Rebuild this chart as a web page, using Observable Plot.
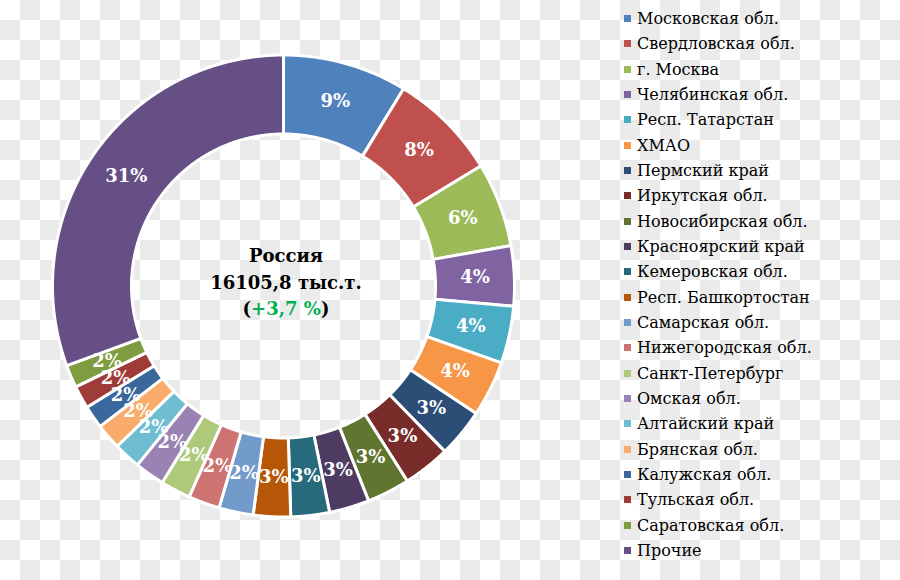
<!DOCTYPE html>
<html>
<head>
<meta charset="utf-8">
<script src="https://cdn.jsdelivr.net/npm/d3@7"></script>
<script src="https://cdn.jsdelivr.net/npm/@observablehq/plot@0.6"></script>
<style>
  html, body { margin: 0; padding: 0; }
  body {
    width: 900px; height: 580px; overflow: hidden; position: relative;
    background: repeating-conic-gradient(#ebebeb 0 25%, #ffffff 0 50%) 0 0 / 40px 40px;
  }
  #chart { position: absolute; left: 0; top: 0; }
  #legend { position: absolute; left: 624px; top: 6px; width: 270px; }
  #legend .lg-swatch { height: 25.33px; padding: 0 !important; margin: 0 !important; }
  #legend .lg-swatch svg { margin-right: 6px !important; }
  #legend .lg-swatch-label { overflow: visible !important; }
</style>
</head>
<body>
<div id="chart"></div>
<div id="legend"></div>
<script>
// ---- Data (shares of total, %) ----
const regions = [
  "Московская обл.", "Свердловская обл.", "г. Москва", "Челябинская обл.",
  "Респ. Татарстан", "ХМАО", "Пермский край", "Иркутская обл.",
  "Новосибирская обл.", "Красноярский край", "Кемеровская обл.", "Респ. Башкортостан",
  "Самарская обл.", "Нижегородская обл.", "Санкт-Петербург", "Омская обл.",
  "Алтайский край", "Брянская обл.", "Калужская обл.", "Тульская обл.",
  "Саратовская обл.", "Прочие"
];
const shares = [
  8.7, 7.6, 5.9, 4.2,
  4.0, 3.9, 3.4, 3.3,
  3.0, 2.8, 2.7, 2.6,
  2.4, 2.2, 2.1, 2.1,
  1.9, 1.8, 1.6, 1.6,
  1.6, 30.6
];
const colors = [
  "#4F81BD", "#C0504D", "#9BBB59", "#8064A2",
  "#4BACC6", "#F79646", "#2C4D75", "#772C2A",
  "#5F7530", "#4D3B62", "#276A7C", "#B65708",
  "#729ACA", "#CD7371", "#AFC97A", "#9983B5",
  "#6FBDD1", "#F9AB6B", "#3A679C", "#9F3B38",
  "#7E9C40", "#654F85"
];
const centerTitle = "Россия";
const centerTotal = "16105,8 тыс.т.";
const centerGrowth = "+3,7 %";

// ---- Build arcs ----
const data = regions.map((region, i) => ({region, share: shares[i]}));
const arcs = d3.pie().sort(null).value(d => d.share)(data);
const innerR = 0.658, outerR = 1, labelR = 0.83;

function ring(a0, a1) {
  const n = Math.max(2, Math.ceil((a1 - a0) / 0.004));
  const pts = [];
  for (let i = 0; i <= n; i++) { const a = a0 + (a1 - a0) * i / n; pts.push([outerR * Math.sin(a), -outerR * Math.cos(a)]); }
  for (let i = n; i >= 0; i--) { const a = a0 + (a1 - a0) * i / n; pts.push([innerR * Math.sin(a), -innerR * Math.cos(a)]); }
  pts.push(pts[0]);
  return pts;
}
const features = arcs.map(a => ({
  type: "Feature",
  properties: {region: a.data.region},
  geometry: {type: "Polygon", coordinates: [ring(a.startAngle, a.endAngle)]}
}));
const labels = arcs.map(a => {
  const m = (a.startAngle + a.endAngle) / 2;
  return {x: labelR * Math.sin(m), y: -labelR * Math.cos(m), text: Math.round(a.data.share) + "%"};
});

function centerLabel(index, scales, values, dims) {
  const cx = (dims.marginLeft + dims.width - dims.marginRight) / 2 + 3;
  const cy = (dims.marginTop + dims.height - dims.marginBottom) / 2;
  const g = d3.create("svg:g")
    .attr("font-family", "'DejaVu Serif', serif")
    .attr("font-weight", "bold")
    .attr("font-size", 18)
    .attr("fill", "#000")
    .attr("text-anchor", "middle");
  g.append("text").attr("x", cx).attr("y", cy - 24).text(centerTitle);
  g.append("text").attr("x", cx).attr("y", cy + 3).text(centerTotal);
  const t = g.append("text").attr("x", cx).attr("y", cy + 29.5);
  t.append("tspan").text("(");
  t.append("tspan").attr("fill", "#00B050").text(centerGrowth);
  t.append("tspan").text(")");
  return g.node();
}

const chart = Plot.plot({
  width: 900,
  height: 580,
  marginLeft: 52, marginRight: 386, marginTop: 54.5, marginBottom: 63.5,
  projection: {type: "identity", domain: {type: "MultiPoint", coordinates: [[-1, -1], [1, 1]]}},
  color: {domain: regions, range: colors},
  style: {background: "transparent", overflow: "visible"},
  marks: [
    Plot.geo(features, {fill: d => d.properties.region, stroke: "white", strokeWidth: 3, strokeLinejoin: "round"}),
    Plot.text(labels, {
      x: "x", y: "y", text: "text", fill: "white",
      fontFamily: "'DejaVu Serif', serif", fontWeight: "bold", fontSize: 18
    }),
    centerLabel
  ]
});
document.getElementById("chart").appendChild(chart);

const legend = Plot.legend({
  color: {type: "ordinal", domain: regions, range: colors},
  legend: "swatches",
  columns: 1,
  swatchSize: 7,
  className: "lg",
  style: {fontFamily: "'DejaVu Serif', serif", fontSize: "16px", color: "#000", background: "transparent"}
});
document.getElementById("legend").appendChild(legend);
</script>
</body>
</html>
